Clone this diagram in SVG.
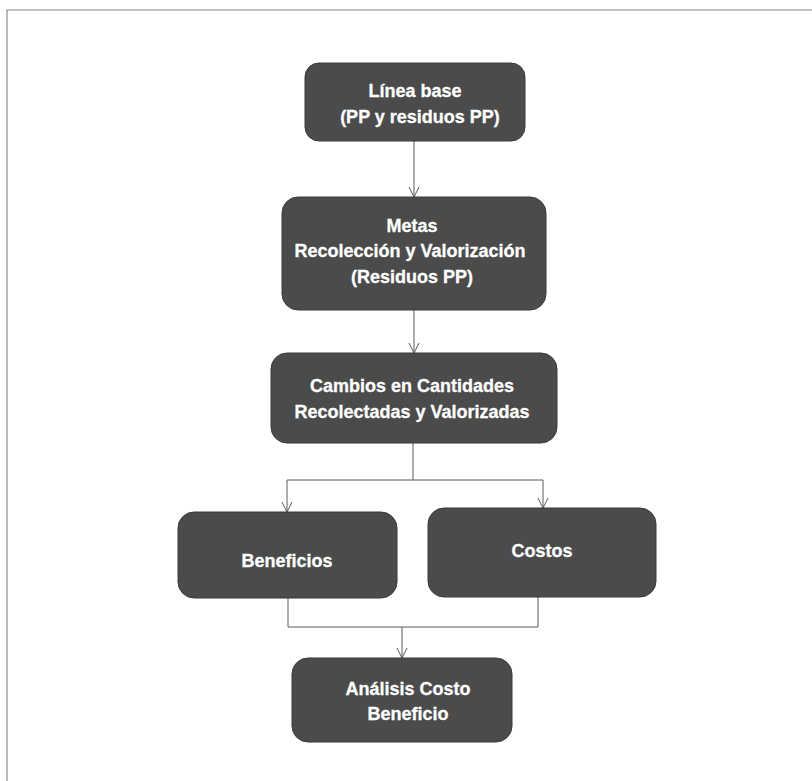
<svg xmlns="http://www.w3.org/2000/svg" width="812" height="781" viewBox="0 0 812 781">
<defs>
<style>
.box{fill:#4b4b4b;stroke:#3a3a3a;stroke-width:1}
.t{font-family:"Liberation Sans",Arial,sans-serif;font-weight:bold;font-size:18px;fill:#ffffff;text-anchor:middle;stroke:#ffffff;stroke-width:0.3}
.c{fill:none;stroke:#5a5a5a;stroke-width:1}
.frame{fill:none;stroke:#8a8a8a;stroke-width:1.2}
</style>
<marker id="arr" viewBox="0 0 12 12" refX="11" refY="6" markerWidth="12" markerHeight="12" markerUnits="userSpaceOnUse" orient="auto">
<path d="M1,1 L11,6 L1,11" fill="none" stroke="#5a5a5a" stroke-width="1"/>
</marker>
</defs>
<rect width="812" height="781" fill="#ffffff"/>
<path class="frame" d="M7,781 L7,10 L812,10"/>
<g id="connectors">
<path class="c" d="M414,141 L414,197" marker-end="url(#arr)"/>
<path class="c" d="M414,310 L414,353" marker-end="url(#arr)"/>
<path class="c" d="M413,443 L413,480"/>
<path class="c" d="M287,480 L543,480"/>
<path class="c" d="M287,480 L287,512" marker-end="url(#arr)"/>
<path class="c" d="M543,480 L543,508" marker-end="url(#arr)"/>
<path class="c" d="M288,598 L288,627 L538,627 L538,597"/>
<path class="c" d="M402,627 L402,658" marker-end="url(#arr)"/>
</g>
<g id="linea-base">
<rect class="box" x="305" y="63" width="220" height="78" rx="14"/>
<text class="t" x="415" y="97">Línea base</text>
<text class="t" x="420" y="123">(PP y residuos PP)</text>
</g>
<g id="metas">
<rect class="box" x="282" y="197" width="264" height="113" rx="16"/>
<text class="t" x="412" y="232">Metas</text>
<text class="t" x="410" y="257">Recolección y Valorización</text>
<text class="t" x="412" y="283">(Residuos PP)</text>
</g>
<g id="cambios">
<rect class="box" x="271" y="353" width="286" height="90" rx="16"/>
<text class="t" x="412" y="392">Cambios en Cantidades</text>
<text class="t" x="412" y="418">Recolectadas y Valorizadas</text>
</g>
<g id="beneficios">
<rect class="box" x="178" y="512" width="219" height="86" rx="16"/>
<text class="t" x="287" y="567">Beneficios</text>
</g>
<g id="costos">
<rect class="box" x="428" y="508" width="228" height="89" rx="16"/>
<text class="t" x="542" y="557">Costos</text>
</g>
<g id="analisis">
<rect class="box" x="292" y="658" width="220" height="84" rx="16"/>
<text class="t" x="408" y="695">Análisis Costo</text>
<text class="t" x="408" y="720">Beneficio</text>
</g>
</svg>
